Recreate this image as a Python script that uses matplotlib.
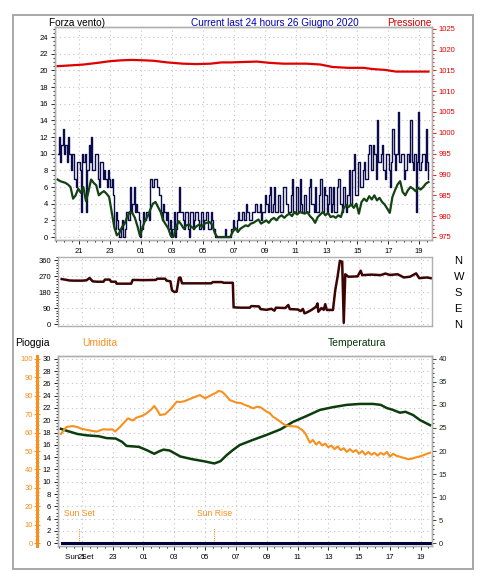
import numpy as np
import matplotlib
matplotlib.use('Agg')
import matplotlib.pyplot as plt
from matplotlib.ticker import MultipleLocator
from matplotlib.patches import Rectangle
from matplotlib.transforms import blended_transform_factory

plt.rcParams['font.family'] = ['Liberation Sans', 'DejaVu Sans']

# time axis: hours counted from midnight of 25 June (25 = 01:00 of the 26th)
hour_ticks = [21, 23, 25, 27, 29, 31, 33, 35, 37, 39, 41, 43]
hour_labels = ['21', '23', '01', '03', '05', '07', '09', '11', '13', '15', '17', '19']

# wind gusts, 5-minute samples starting 19:36
wind_start = 19.6
gust = [10, 12, 9, 11, 13, 10, 11, 9, 12, 10, 8, 10,
        10, 7, 6, 9, 9, 8, 3, 10, 9, 10, 3, 8,
        11, 9, 12, 8, 8, 10, 10, 7, 6, 9, 9, 7,
        8, 7, 6, 8, 7, 6, 7, 5, 1, 3, 2, 1,
        0, 1, 2, 0, 1, 3, 3, 2, 6, 3, 4, 6,
        3, 4, 3, 2, 0, 1, 3, 2, 2, 3, 3, 2,
        7, 6, 6, 7, 7, 6, 6, 5, 3, 2, 4, 3,
        2, 3, 1, 2, 0, 1, 3, 0, 1, 3, 6, 3,
        3, 2, 1, 3, 3, 1, 0, 3, 3, 1, 2, 3,
        3, 2, 1, 3, 3, 1, 2, 3, 3, 1, 1, 3,
        2, 1, 0, 0, 0, 0, 0, 0, 0, 0, 1, 0,
        0, 0, 0, 1, 2, 1, 1, 2, 3, 2, 2, 3,
        3, 2, 4, 3, 3, 2, 2, 3, 3, 4, 4, 3,
        3, 4, 2, 3, 3, 5, 4, 3, 5, 6, 3, 4,
        6, 3, 3, 5, 5, 3, 3, 6, 6, 4, 4, 3,
        3, 5, 7, 3, 3, 6, 6, 3, 7, 4, 3, 5,
        5, 3, 3, 6, 7, 4, 4, 3, 6, 3, 3, 5,
        7, 3, 3, 6, 5, 3, 4, 6, 3, 4, 6, 3,
        3, 6, 7, 4, 4, 3, 6, 4, 3, 5, 8, 4,
        4, 8, 10, 5, 5, 9, 9, 6, 6, 8, 9, 7,
        7, 10, 11, 8, 8, 11, 10, 7, 14, 9, 9, 10,
        11, 8, 7, 10, 10, 8, 6, 9, 13, 10, 8, 10,
        15, 9, 9, 10, 10, 7, 8, 10, 10, 9, 14, 9,
        8, 10, 3, 9, 15, 8, 9, 10, 10, 8, 13, 9,
        7]
# average wind, 10-minute samples starting 19:36
wind_avg = [6.9, 6.7, 6.6, 6.5, 6.3, 6.0,
            4.6, 5.0, 5.8, 5.3, 6.0, 4.3,
            5.5, 6.9, 6.5, 6.2, 5.0, 5.3,
            5.5, 5.2, 4.8, 3.0, 1.2, 0.2,
            0.5, 1.2, 1.6, 2.4, 3.0, 2.9,
            2.3, 1.3, 0.1, 1.2, 2.0, 2.5,
            3.3, 4.0, 4.2, 3.6, 3.0, 2.0,
            1.5, 1.0, 0.1, 0.0, 1.2, 1.9,
            1.5, 1.0, 1.4, 1.5, 1.2, 1.0,
            1.3, 1.5, 1.2, 1.6, 1.7, 1.8,
            1.5, 0.5, 0.0, 0.0, 0.0, 0.0,
            0.0, 0.0, 0.6, 1.1, 0.6, 1.0,
            1.2, 1.4, 1.3, 1.6, 1.7, 1.9,
            2.1, 1.6, 1.8, 2.0, 1.7, 2.1,
            2.3, 2.0, 2.4, 2.6, 2.3, 2.6,
            2.8, 2.5, 3.0, 2.7, 3.0, 2.9,
            2.8, 3.0, 2.5, 2.2, 1.7, 2.4,
            2.7, 3.0, 2.6, 2.9, 2.4, 2.5,
            2.3, 2.6, 2.4, 3.4, 3.8, 3.6,
            3.9, 3.5, 4.0, 2.8, 4.2, 4.6,
            4.3, 4.9, 4.5, 5.0, 4.4, 4.7,
            4.2, 3.9, 3.4, 2.9, 4.8, 5.6,
            6.3, 6.7, 5.4, 5.0, 5.6, 6.0,
            5.8, 5.5, 5.9, 5.7, 6.0, 6.4,
            6.6]
gust_hours = wind_start + np.arange(len(gust)) / 12.0
avg_hours = wind_start + np.arange(len(wind_avg)) / 6.0

press_t = [19.6, 20.5, 21.3, 22.2, 23.0, 23.7, 24.4, 25.2, 25.8, 26.7, 27.7, 28.6,
           29.5, 30.2, 30.8, 31.6, 32.5, 33.3, 34.2, 35.0, 35.7, 36.6, 37.4, 38.4,
           39.4, 40.0, 40.8, 41.5, 42.5, 43.6]
press = [1016.0, 1016.2, 1016.4, 1016.8, 1017.2, 1017.4, 1017.5, 1017.4, 1017.3, 1016.9,
         1016.6, 1016.5, 1016.6, 1016.9, 1016.9, 1017.0, 1017.1, 1016.8, 1016.6, 1016.6,
         1016.6, 1016.4, 1015.8, 1015.6, 1015.6, 1015.3, 1015.1, 1014.7, 1014.7, 1014.7]

dir_t = [19.69, 19.9, 20.2, 20.5, 21.0, 21.3, 21.5, 21.7, 22.0, 22.4, 22.5, 22.8, 22.9,
         23.2, 23.25, 24.2, 24.3, 25.0, 25.8, 25.9, 26.4, 26.5, 26.75, 26.85, 27.0, 27.15,
         27.3, 27.4, 27.5, 28.5, 29.4, 29.5, 30.1, 30.2, 30.8, 30.85, 31.3, 31.9, 32.0,
         32.5, 32.6, 33.0, 33.3, 33.5, 33.6, 34.2, 34.4, 34.5, 35.0, 35.2, 35.35, 35.45,
         35.6, 35.9, 36.2, 36.3, 36.35, 36.55, 36.7, 36.8, 36.9, 37.3, 37.45, 37.6, 37.75,
         37.9, 38.0, 38.1, 38.3, 38.9, 39.1, 39.2, 39.8, 40.4, 40.7, 41.0, 41.5, 41.9,
         42.3, 42.7, 42.9, 43.4, 43.65]
dir_deg = [253, 250, 245, 244, 244, 246, 259, 240, 238, 238, 250, 250, 238,
           238, 227, 227, 248, 247, 248, 255, 255, 244, 240, 190, 180, 182,
           259, 262, 229, 229, 229, 236, 236, 232, 232, 94, 92, 92, 101,
           99, 84, 80, 86, 75, 92, 90, 107, 84, 82, 73, 85, 60,
           65, 79, 97, 116, 69, 90, 80, 112, 79, 79, 191, 266, 355,
           350, 7, 280, 266, 268, 300, 275, 278, 275, 284, 276, 280, 262,
           266, 285, 258, 262, 258]
dir_letters = ['N', 'W', 'S', 'E', 'N']
dir_ticks = [360, 270, 180, 90, 0]

hum_t = [19.64, 19.8, 20.0, 20.4, 20.7, 21.0, 21.3, 21.6, 21.96, 22.4, 22.7, 23.0, 23.15,
         23.5, 23.8, 24.0, 24.3, 24.55, 24.9, 25.2, 25.5, 25.7, 25.9, 26.07, 26.4, 26.8,
         27.15, 27.4, 27.7, 28.1, 28.4, 28.67, 29.0, 29.4, 29.7, 29.86, 30.1, 30.3, 30.6,
         31.05, 31.3, 31.6, 31.9, 32.1, 32.4, 32.6, 33.0, 33.2, 33.4, 33.7, 33.97, 34.2,
         34.5, 34.95, 35.3, 35.5,
         35.8, 36.0, 36.2, 36.4, 36.6, 36.8, 37.0, 37.2, 37.4, 37.6, 37.8, 38.0, 38.2,
         38.4, 38.6, 38.8, 39.0, 39.2, 39.4, 39.6, 39.8, 40.0, 40.2, 40.4, 40.6, 40.8,
         41.0, 41.2, 41.4, 41.6, 41.8, 42.0, 42.2, 42.4, 42.6, 42.8, 43.0, 43.2, 43.4, 43.6]
humidity = [59.2, 61.0, 63.0, 63.5, 63.0, 62.0, 61.5, 61.0, 60.5, 61.8, 61.6, 61.7, 60.5,
            63.2, 66.0, 67.7, 66.5, 68.1, 69.0, 70.4, 72.5, 74.4, 72.0, 69.5, 69.9, 73.0,
            76.7, 76.5, 77.1, 78.5, 79.5, 80.3, 78.5, 80.3, 81.5, 82.5, 82.1, 80.5, 77.6,
            76.2, 76.0, 74.9, 74.0, 73.1, 74.0, 73.7, 71.3, 70.5, 68.6, 67.0, 65.3, 64.0,
            63.5, 63.2, 61.4, 59.6,
            54.5, 56.0, 53.5, 55.0, 53.0, 54.0, 52.0, 53.0, 51.0, 52.5, 50.5, 51.5, 49.5,
            51.0, 49.5, 50.5, 48.5, 50.0, 48.0, 49.5, 48.0, 49.0, 47.5, 49.0, 48.0, 49.5,
            47.0, 48.5, 47.5, 47.0, 46.5, 46.0, 45.5, 45.8, 46.3, 46.8, 47.2, 47.8, 48.5, 49.1]

temp_t = [19.64, 20.0, 20.7, 21.3, 22.1, 22.6, 23.2, 23.6, 23.9, 24.7, 25.2, 25.7, 26.0,
          26.3, 26.7, 27.4, 28.2, 28.9, 29.6, 30.0, 30.4, 30.8, 31.25, 32.1, 33.0, 33.9,
          34.7, 35.6, 36.45, 37.3, 38.2, 39.05, 39.9, 40.4, 40.8, 41.2, 41.65, 42.0, 42.5,
          42.95, 43.6]
temperature = [24.8, 24.4, 23.7, 23.4, 23.2, 22.8, 22.7, 22.0, 21.1, 20.9, 20.2, 19.4, 19.9,
               20.3, 20.1, 18.8, 18.2, 17.8, 17.3, 17.8, 19.1, 20.2, 21.3, 22.4, 23.5, 24.7,
               26.3, 27.6, 28.9, 29.5, 30.0, 30.2, 30.2, 30.0, 29.3, 28.9, 28.3, 28.5, 27.8,
               26.7, 25.6]

rain_t = [19.7, 43.6]
rain = [0.0, 0.0]

sun_t = [20.83, 29.6]
sun_labels = ['Sun Set', 'Sun Rise']

# colours
NAVY = '#0c0c4c'
WGREEN = '#134313'
RED = '#e00000'
DIRC = '#3c0404'
ORANGE = '#f7901e'
TGREEN = '#0d3d0d'
FRAME = '#b0b0b0'
GRID = '#c4c4c4'

W, H = 488, 582
fig = plt.figure(figsize=(W / 100, H / 100), dpi=100)
fig.patch.set_facecolor('white')


def fx(x):
    return x / W


def fy(y):
    return 1 - y / H


fig.add_artist(Rectangle((fx(13), fy(569)), (472.5 - 13) / W, (569 - 14.5) / H,
                         transform=fig.transFigure, fill=False, ec='#a0a0a0', lw=1.3))


def frame(ax):
    for s in ax.spines.values():
        s.set_color(FRAME)
        s.set_linewidth(1.0)
    ax.tick_params(which='both', direction='out', width=0.6, labelsize=5.5, pad=2)
    ax.tick_params(which='major', length=3)
    ax.tick_params(which='minor', length=1.5)


def grid(ax):
    ax.grid(True, which='major', color=GRID, linestyle=(0, (1, 3)), lw=0.8)
    ax.set_axisbelow(True)


# ---- panel 1: wind speed and pressure
ax1 = fig.add_axes([fx(55), fy(240), 377 / W, 213 / H])
frame(ax1)
grid(ax1)
ax1.step(gust_hours, gust, where='post', color=NAVY, lw=1.0, zorder=3)
ax1.plot(avg_hours, wind_avg, color=WGREEN, lw=1.6, zorder=4)
ax1.set_xlim(19.43, 43.83)
ax1.set_ylim(-0.36, 25.2)
ax1.set_yticks(range(0, 25, 2))
ax1.yaxis.set_minor_locator(MultipleLocator(0.5))
ax1.set_xticks(hour_ticks)
ax1.set_xticklabels(hour_labels)
ax1.xaxis.set_minor_locator(MultipleLocator(0.5))
ax1.tick_params(axis='x', pad=3)

ax1p = ax1.twinx()
frame(ax1p)
ax1p.plot(press_t, press, color=RED, lw=1.6)
ax1p.set_ylim(974.28, 1025.4)
ax1p.set_yticks(range(975, 1026, 5))
ax1p.yaxis.set_minor_locator(MultipleLocator(1))
ax1p.tick_params(axis='y', which='both', colors=RED, labelcolor=RED)

fig.text(fx(49), fy(23), 'Forza vento)', fontsize=7.2, va='center', ha='left')
fig.text(fx(274.5), fy(23), 'Current last 24 hours 26 Giugno 2020', fontsize=7.2,
         va='center', ha='center', color='#0000b4')
fig.text(fx(432), fy(23), 'Pressione', fontsize=7.2, va='center', ha='right', color='#d40000')

# ---- panel 2: wind direction
ax2 = fig.add_axes([fx(58), fy(326), 374 / W, 69 / H])
frame(ax2)
grid(ax2)
ax2.plot(dir_t, dir_deg, color=DIRC, lw=1.8)
ax2.set_xlim(19.45, 43.73)
ax2.set_ylim(-11, 377)
ax2.set_yticks([0, 90, 180, 270, 360])
ax2.yaxis.set_minor_locator(MultipleLocator(15))
ax2.set_xticks(hour_ticks)
ax2.tick_params(axis='x', which='both', length=0, labelbottom=False)
ax2r = ax2.twinx()
ax2r.set_ylim(ax2.get_ylim())
ax2r.set_yticks(dir_ticks)
ax2r.set_yticklabels(dir_letters)
ax2r.tick_params(axis='y', length=0, pad=16, labelsize=8)
for s in ax2r.spines.values():
    s.set_visible(False)

# ---- panel 3: rain, humidity, temperature
ax3 = fig.add_axes([fx(58), fy(546), 374 / W, 190 / H])
frame(ax3)
grid(ax3)
ax3.set_xlim(19.45, 43.73)
ax3.set_ylim(-0.44, 30.44)
ax3.set_yticks(range(0, 31, 2))
ax3.yaxis.set_minor_locator(MultipleLocator(0.5))
ax3.set_xticks(hour_ticks)
ax3.set_xticklabels(hour_labels)
ax3.xaxis.set_minor_locator(MultipleLocator(0.5))
ax3.tick_params(axis='x', pad=3)
ax3.plot(rain_t, rain, color='#00003a', lw=2.2, zorder=5)
for t, lab in zip(sun_t, sun_labels):
    ax3.plot([t, t], [0, 2.5], color=ORANGE, lw=0.8, linestyle=(0, (1, 1)))
    ax3.text(t, 4.8, lab, color=ORANGE, fontsize=6.2, ha='center', va='center')
trans = blended_transform_factory(ax3.transData, ax3.transAxes)
ax3.text(sun_t[0], -0.058, 'Sun Set', fontsize=5.8, ha='center', va='center', transform=trans)

ax_t = ax3.twinx()
frame(ax_t)
ax_t.plot(temp_t, temperature, color=TGREEN, lw=1.8)
ax_t.set_ylim(-0.44 * 40 / 30, 30.44 * 40 / 30)
ax_t.set_yticks(range(0, 41, 5))
ax_t.yaxis.set_minor_locator(MultipleLocator(1))
ax_t.tick_params(axis='y', which='both', colors='#1a2a1a')

ax_h = ax3.twinx()
ax_h.plot(hum_t, humidity, color=ORANGE, lw=1.5)
ax_h.set_ylim(-0.44 * 100 / 30, 30.44 * 100 / 30)
ax_h.yaxis.set_ticks_position('left')
ax_h.yaxis.set_label_position('left')
for name, s in ax_h.spines.items():
    s.set_visible(name == 'left')
ax_h.spines['left'].set_position(('outward', 15))
ax_h.spines['left'].set_color(ORANGE)
ax_h.spines['left'].set_linewidth(2.2)
ax_h.set_yticks(range(0, 101, 10))
ax_h.yaxis.set_minor_locator(MultipleLocator(2))
ax_h.tick_params(axis='y', which='major', direction='inout', length=4, width=0.8,
                 colors=ORANGE, labelsize=5.5, pad=1)
ax_h.tick_params(axis='y', which='minor', direction='inout', length=2.5, width=0.6,
                 colors=ORANGE)

fig.text(fx(15.5), fy(343), 'Pioggia', fontsize=7.5, va='center', ha='left')
fig.text(fx(82), fy(343), 'Umidita', fontsize=7.5, va='center', ha='left', color=ORANGE)
fig.text(fx(328), fy(343), 'Temperatura', fontsize=7.5, va='center', ha='left', color='#073507')

fig.savefig('out.png', dpi=100, facecolor='white')
